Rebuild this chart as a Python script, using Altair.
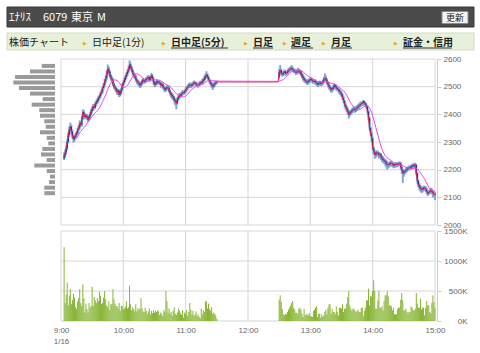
import altair as alt
import pandas as pd

# ---------------- data (minutes after 9:00, 1-minute bars) ----------------
am_minutes = list(range(3, 151))
pm_minutes = list(range(210, 361))

am_open = [2240, 2250, 2262, 2278, 2300, 2325, 2345,
           2355, 2338, 2320, 2310, 2318, 2325, 2332, 2345, 2352, 2368,
           2362, 2385, 2408, 2400, 2390, 2395, 2388, 2381, 2392, 2400,
           2412, 2420, 2429, 2425, 2438, 2445, 2450, 2459, 2465, 2475,
           2482, 2495, 2505, 2520, 2530, 2548, 2565, 2555, 2540, 2531,
           2525, 2510, 2500, 2495, 2489, 2480, 2485, 2471, 2478, 2490,
           2505, 2515, 2525, 2535, 2545, 2555, 2565, 2580, 2570, 2560,
           2548, 2540, 2537, 2525, 2520, 2515, 2510, 2505, 2512, 2520,
           2525, 2518, 2522, 2528, 2530, 2535, 2525, 2532, 2540, 2530,
           2518, 2507, 2512, 2520, 2515, 2518, 2513, 2505, 2510, 2500,
           2495, 2489, 2495, 2498, 2495, 2485, 2477, 2470, 2465, 2460,
           2452, 2447, 2440, 2455, 2462, 2471, 2468, 2475, 2480, 2478,
           2483, 2490, 2495, 2500, 2505, 2507, 2502, 2508, 2510, 2515,
           2513, 2508, 2505, 2505, 2510, 2515, 2513, 2520, 2525, 2530,
           2538, 2543, 2535, 2525, 2519, 2512, 2505, 2501, 2508, 2512,
           2515]
am_high = [2262, 2272, 2288, 2310, 2335, 2358, 2370,
           2362, 2345, 2328, 2325, 2333, 2340, 2352, 2360, 2378, 2375,
           2392, 2418, 2415, 2405, 2402, 2400, 2392, 2398, 2408, 2420,
           2428, 2438, 2435, 2445, 2452, 2458, 2466, 2472, 2482, 2490,
           2502, 2512, 2528, 2540, 2560, 2580, 2572, 2560, 2545, 2538,
           2530, 2515, 2506, 2500, 2494, 2492, 2490, 2485, 2496, 2512,
           2522, 2532, 2542, 2552, 2562, 2575, 2595, 2588, 2575, 2565,
           2555, 2548, 2542, 2530, 2526, 2522, 2515, 2518, 2526, 2532,
           2530, 2528, 2535, 2538, 2542, 2540, 2538, 2550, 2545, 2535,
           2522, 2518, 2526, 2525, 2524, 2522, 2518, 2515, 2515, 2505,
           2502, 2500, 2505, 2504, 2500, 2490, 2482, 2478, 2472, 2466,
           2458, 2452, 2462, 2470, 2478, 2476, 2482, 2488, 2485, 2490,
           2498, 2502, 2508, 2512, 2515, 2512, 2515, 2518, 2522, 2520,
           2518, 2515, 2512, 2518, 2522, 2520, 2528, 2532, 2540, 2548,
           2556, 2548, 2540, 2530, 2525, 2518, 2510, 2515, 2520, 2522,
           2522]
am_low = [2235, 2242, 2255, 2270, 2295, 2318, 2338,
          2330, 2312, 2298, 2302, 2310, 2318, 2326, 2338, 2345, 2355,
          2355, 2378, 2395, 2382, 2385, 2380, 2372, 2376, 2386, 2395,
          2405, 2412, 2418, 2420, 2430, 2438, 2442, 2452, 2458, 2468,
          2475, 2488, 2498, 2512, 2525, 2540, 2548, 2532, 2522, 2515,
          2502, 2492, 2486, 2480, 2470, 2472, 2462, 2465, 2472, 2485,
          2498, 2508, 2518, 2528, 2538, 2548, 2558, 2562, 2552, 2540,
          2532, 2528, 2518, 2510, 2505, 2500, 2495, 2498, 2505, 2512,
          2510, 2512, 2515, 2520, 2524, 2518, 2520, 2526, 2522, 2508,
          2498, 2500, 2505, 2508, 2508, 2506, 2496, 2498, 2492, 2486,
          2480, 2482, 2488, 2486, 2478, 2468, 2460, 2455, 2450, 2440,
          2432, 2418, 2435, 2448, 2455, 2460, 2462, 2468, 2470, 2472,
          2476, 2482, 2488, 2494, 2498, 2495, 2496, 2500, 2504, 2505,
          2500, 2498, 2496, 2500, 2504, 2505, 2506, 2512, 2518, 2522,
          2530, 2528, 2518, 2510, 2504, 2495, 2488, 2495, 2500, 2506,
          2510]
am_close = [2250, 2262, 2278, 2300, 2325, 2345, 2355,
            2338, 2320, 2310, 2318, 2325, 2332, 2345, 2352, 2368, 2362,
            2385, 2408, 2400, 2390, 2395, 2388, 2381, 2392, 2400, 2412,
            2420, 2429, 2425, 2438, 2445, 2450, 2459, 2465, 2475, 2482,
            2495, 2505, 2520, 2530, 2548, 2565, 2555, 2540, 2531, 2525,
            2510, 2500, 2495, 2489, 2480, 2485, 2471, 2478, 2490, 2505,
            2515, 2525, 2535, 2545, 2555, 2565, 2580, 2570, 2560, 2548,
            2540, 2537, 2525, 2520, 2515, 2510, 2505, 2512, 2520, 2525,
            2518, 2522, 2528, 2530, 2535, 2525, 2532, 2540, 2530, 2518,
            2507, 2512, 2520, 2515, 2518, 2513, 2505, 2510, 2500, 2495,
            2489, 2495, 2498, 2495, 2485, 2477, 2470, 2465, 2460, 2452,
            2447, 2440, 2455, 2462, 2471, 2468, 2475, 2480, 2478, 2483,
            2490, 2495, 2500, 2505, 2507, 2502, 2508, 2510, 2515, 2513,
            2508, 2505, 2505, 2510, 2515, 2513, 2520, 2525, 2530, 2538,
            2543, 2535, 2525, 2519, 2512, 2505, 2501, 2508, 2512, 2515,
            2517]
am_vol = [1230, 300, 440, 640, 260, 420, 530, 280, 350, 455,
          390, 230, 200, 330, 380, 530, 300, 250, 610, 380,
          140, 290, 200, 140, 300, 220, 250, 570, 250, 400,
          345, 300, 380, 330, 490, 420, 280, 300, 390, 500,
          360, 260, 230, 330, 180, 280, 280, 530, 360, 290,
          250, 250, 210, 300, 170, 250, 250, 190, 210, 240,
          330, 210, 230, 590, 280, 180, 230, 200, 160, 280,
          160, 210, 190, 210, 380, 210, 160, 150, 220, 170,
          120, 160, 210, 110, 170, 130, 180, 140, 170, 150,
          180, 160, 100, 140, 120, 85, 180, 150, 500, 330,
          140, 210, 120, 150, 85, 170, 230, 120, 100, 140,
          210, 170, 130, 100, 180, 55, 140, 120, 180, 85,
          150, 300, 190, 110, 170, 90, 110, 160, 85, 110,
          70, 45, 210, 110, 180, 150, 320, 330, 210, 290,
          200, 170, 230, 120, 140, 120, 90, 35]

pm_open = [2535, 2552, 2560, 2548, 2545, 2549, 2555, 2548, 2549, 2555,
           2560, 2562, 2565, 2567, 2560, 2558, 2555, 2550, 2556, 2560,
           2552, 2555, 2545, 2538, 2531, 2525, 2522, 2519, 2515, 2520,
           2523, 2528, 2525, 2520, 2518, 2522, 2515, 2513, 2508, 2512,
           2515, 2510, 2513, 2520, 2528, 2531, 2525, 2515, 2507, 2500,
           2495, 2489, 2492, 2498, 2505, 2501, 2495, 2492, 2489, 2482,
           2478, 2471, 2460, 2448, 2435, 2425, 2418, 2410, 2399, 2405,
           2410, 2415, 2417, 2420, 2415, 2422, 2425, 2429, 2432, 2436,
           2438, 2441, 2446, 2440, 2435, 2428, 2410, 2386, 2350, 2330,
           2313, 2277, 2265, 2253, 2258, 2262, 2259, 2252, 2255, 2247,
           2240, 2235, 2232, 2229, 2222, 2218, 2217, 2220, 2225, 2223,
           2220, 2215, 2218, 2220, 2217, 2222, 2220, 2223, 2210, 2198,
           2187, 2190, 2195, 2199, 2202, 2205, 2208, 2206, 2211, 2215,
           2212, 2218, 2217, 2187, 2160, 2145, 2138, 2132, 2127, 2130,
           2135, 2133, 2128, 2120, 2115, 2118, 2122, 2125, 2120, 2115, 2112]
pm_high = [2565, 2578, 2565, 2555, 2556, 2562, 2560, 2556, 2562, 2568,
           2570, 2574, 2578, 2572, 2566, 2565, 2562, 2562, 2568, 2565,
           2562, 2560, 2550, 2545, 2538, 2532, 2528, 2525, 2528, 2530,
           2535, 2534, 2530, 2526, 2528, 2526, 2520, 2518, 2518, 2522,
           2520, 2518, 2526, 2536, 2548, 2540, 2530, 2520, 2512, 2505,
           2500, 2498, 2505, 2512, 2510, 2506, 2500, 2498, 2494, 2488,
           2485, 2476, 2465, 2452, 2440, 2432, 2425, 2415, 2412, 2416,
           2422, 2425, 2428, 2426, 2430, 2432, 2436, 2440, 2445, 2446,
           2448, 2452, 2450, 2445, 2440, 2432, 2415, 2392, 2356, 2338,
           2318, 2285, 2272, 2265, 2270, 2268, 2264, 2262, 2260, 2252,
           2248, 2242, 2240, 2235, 2230, 2225, 2228, 2232, 2230, 2228,
           2225, 2224, 2228, 2226, 2228, 2228, 2230, 2228, 2215, 2202,
           2198, 2202, 2206, 2210, 2212, 2215, 2214, 2218, 2222, 2220,
           2225, 2224, 2220, 2192, 2165, 2152, 2145, 2140, 2138, 2142,
           2142, 2140, 2135, 2126, 2125, 2130, 2135, 2132, 2125, 2120, 2118]
pm_low = [2528, 2545, 2540, 2536, 2538, 2542, 2540, 2540, 2544, 2548,
          2552, 2555, 2558, 2552, 2550, 2548, 2542, 2544, 2550, 2545,
          2545, 2538, 2530, 2522, 2516, 2514, 2510, 2506, 2508, 2512,
          2516, 2518, 2512, 2510, 2512, 2506, 2504, 2498, 2500, 2505,
          2502, 2502, 2506, 2512, 2520, 2518, 2508, 2498, 2490, 2485,
          2478, 2480, 2485, 2490, 2492, 2486, 2484, 2480, 2472, 2468,
          2462, 2452, 2440, 2425, 2415, 2408, 2398, 2385, 2392, 2398,
          2402, 2406, 2410, 2406, 2408, 2414, 2418, 2420, 2425, 2428,
          2430, 2434, 2432, 2426, 2420, 2405, 2378, 2342, 2320, 2300,
          2270, 2255, 2240, 2242, 2248, 2250, 2240, 2242, 2235, 2228,
          2225, 2220, 2215, 2208, 2200, 2205, 2208, 2212, 2212, 2210,
          2205, 2206, 2210, 2208, 2210, 2212, 2214, 2200, 2185, 2152,
          2175, 2182, 2188, 2192, 2195, 2198, 2198, 2200, 2205, 2204,
          2205, 2208, 2180, 2150, 2135, 2125, 2120, 2115, 2118, 2122,
          2125, 2120, 2110, 2105, 2108, 2112, 2115, 2110, 2100, 2100, 2090]
pm_close = [2552, 2560, 2548, 2545, 2549, 2555, 2548, 2549, 2555, 2560,
            2562, 2565, 2567, 2560, 2558, 2555, 2550, 2556, 2560, 2552,
            2555, 2545, 2538, 2531, 2525, 2522, 2519, 2515, 2520, 2523,
            2528, 2525, 2520, 2518, 2522, 2515, 2513, 2508, 2512, 2515,
            2510, 2513, 2520, 2528, 2531, 2525, 2515, 2507, 2500, 2495,
            2489, 2492, 2498, 2505, 2501, 2495, 2492, 2489, 2482, 2478,
            2471, 2460, 2448, 2435, 2425, 2418, 2410, 2399, 2405, 2410,
            2415, 2417, 2420, 2415, 2422, 2425, 2429, 2432, 2436, 2438,
            2441, 2446, 2440, 2435, 2428, 2410, 2386, 2350, 2330, 2313,
            2277, 2265, 2253, 2258, 2262, 2259, 2252, 2255, 2247, 2240,
            2235, 2232, 2229, 2222, 2218, 2217, 2220, 2225, 2223, 2220,
            2215, 2218, 2220, 2217, 2222, 2220, 2223, 2210, 2198, 2187,
            2190, 2195, 2199, 2202, 2205, 2208, 2206, 2211, 2215, 2212,
            2218, 2217, 2187, 2160, 2145, 2138, 2132, 2127, 2130, 2135,
            2133, 2128, 2120, 2115, 2118, 2122, 2125, 2120, 2115, 2112, 2108]
pm_vol = [355, 428, 317, 200, 111, 94, 122, 111, 150, 190,
          222, 261, 300, 333, 222, 190, 133, 140, 122, 205,
          222, 190, 120, 67, 205, 94, 111, 111, 94, 133,
          78, 78, 67, 166, 190, 220, 244, 67, 122, 122,
          55, 111, 67, 94, 150, 190, 111, 222, 278, 278,
          122, 205, 150, 150, 111, 244, 150, 94, 222, 222,
          205, 278, 150, 205, 205, 289, 400, 500, 261, 205,
          166, 205, 205, 178, 150, 166, 190, 150, 150, 222,
          222, 78, 166, 222, 344, 344, 539, 261, 411, 411,
          500, 678, 500, 205, 205, 344, 500, 222, 222, 244,
          178, 333, 428, 428, 500, 411, 261, 261, 244, 178,
          222, 111, 111, 111, 205, 222, 222, 355, 467, 344,
          178, 178, 205, 150, 122, 150, 150, 244, 222, 178,
          178, 205, 467, 289, 222, 222, 372, 190, 222, 222,
          94, 222, 333, 261, 261, 150, 122, 300, 428, 317, 222]

# lunch break: line carried at the morning's last price
lunch_minute = 209
lunch_close = 2517

# price-band volume profile (left side)
profile_price = [2575, 2555, 2535, 2515, 2495, 2475, 2455, 2435, 2415, 2395, 2375, 2355,
                 2335, 2315, 2295, 2275, 2255, 2235, 2215, 2195, 2175, 2155, 2135, 2115]
profile_vol = [1330, 2500, 4000, 4170, 3600, 2500, 1230, 2330, 1570, 1500, 1070, 930,
               1500, 830, 670, 1270, 1400, 830, 2070, 830, 500, 600, 1070, 1070]

price_ticks = [2000, 2100, 2200, 2300, 2400, 2500, 2600]
vol_ticks = [0, 500, 1000, 1500]
hour_ticks = [0, 60, 120, 180, 240, 300, 360]

# ---------------- frames ----------------
candles = pd.DataFrame({
    "t": am_minutes + pm_minutes,
    "open": am_open + pm_open,
    "high": am_high + pm_high,
    "low": am_low + pm_low,
})
candles["close"] = am_close + pm_close
volume = pd.DataFrame({"t": am_minutes + pm_minutes, "vol": am_vol + pm_vol})
line_df = pd.DataFrame({"t": am_minutes + [lunch_minute] + pm_minutes,
                        "close": am_close + [lunch_close] + pm_close})
profile = pd.DataFrame({"p": profile_price, "pv": profile_vol})
one = pd.DataFrame({"a": [0]})

# ---------------- scales ----------------
W, H = 480, 353
X0, X1 = 61, 435
PY0, PY1 = 59, 225
VY0, VY1 = 231, 321
GRID = "#d6d6d6"
LBL = "#666666"
FONT = "Liberation Sans"
JP = "Noto Sans CJK JP"

def tsc():
    return alt.Scale(domain=[0, 360], range=[X0, X1], nice=False, zero=False)

def psc():
    return alt.Scale(domain=[2000, 2600], range=[PY1, PY0], nice=False, zero=False)

def vsc():
    return alt.Scale(domain=[0, 1500], range=[VY1, VY0], nice=False, zero=False)

price_axis = alt.Axis(orient="right", offset=-(W - X1 - 2), values=price_ticks, grid=False,
                      format="d",
                      domainColor="#cccccc", tickColor="#cccccc", tickSize=4, labelPadding=2,
                      labelFont=FONT, labelFontSize=8, labelColor=LBL, title=None,
                      labelOverlap=False, labelFlush=False)
vol_axis = alt.Axis(orient="right", offset=-(W - X1 - 2), values=vol_ticks, grid=False,
                    domainColor="#cccccc", tickColor="#cccccc", tickSize=4, labelPadding=26,
                    labelAlign="right", labelExpr="datum.value + 'K'",
                    labelFont=FONT, labelFontSize=8, labelColor=LBL, title=None,
                    labelOverlap=False, labelFlush=False)
time_axis = alt.Axis(orient="bottom", offset=-(H - VY1), values=hour_ticks, grid=False,
                     domain=False, ticks=False, tickSize=0, labelPadding=5,
                     labelExpr="datum.value == 0 ? ['9:00', '1/16'] : (floor(datum.value / 60) + 9) + ':00'",
                     labelLineHeight=11, labelFont=FONT, labelFontSize=8, labelColor=LBL,
                     title=None, labelOverlap=False, labelFlush=False)

layers = []

# grids
ticks_p = pd.DataFrame({"p": price_ticks})
layers.append(alt.Chart(ticks_p).mark_rule(color=GRID, strokeWidth=1).encode(
    y=alt.Y("p:Q", scale=psc(), axis=price_axis), x=alt.value(X0), x2=alt.value(X1)))
ticks_v = pd.DataFrame({"v": vol_ticks})
layers.append(alt.Chart(ticks_v).mark_rule(color=GRID, strokeWidth=1).encode(
    y=alt.Y("v:Q", scale=vsc(), axis=vol_axis), x=alt.value(X0), x2=alt.value(X1)))
hours = pd.DataFrame({"t": hour_ticks})
layers.append(alt.Chart(hours).mark_rule(color=GRID, strokeWidth=1).encode(
    x=alt.X("t:Q", scale=tsc(), axis=None), y=alt.value(PY0), y2=alt.value(PY1)))
layers.append(alt.Chart(hours).mark_rule(color=GRID, strokeWidth=1).encode(
    x=alt.X("t:Q", scale=tsc(), axis=time_axis), y=alt.value(VY0), y2=alt.value(VY1)))

# price-band profile
layers.append(alt.Chart(profile).mark_rule(color="#9a9a9a", strokeWidth=4, strokeCap="butt").encode(
    x=alt.X("pv:Q", scale=alt.Scale(domain=[0, 4200], range=[55, 13], nice=False, zero=False), axis=None),
    x2=alt.datum(0),
    y=alt.Y("p:Q", scale=psc(), axis=None)))

# volume bars
layers.append(alt.Chart(volume).mark_rule(color="#86b432", strokeWidth=1).encode(
    x=alt.X("t:Q", scale=tsc(), axis=None),
    y=alt.Y("vol:Q", scale=vsc(), axis=None), y2=alt.datum(0)))

# candles
layers.append(alt.Chart(candles).mark_rule(color="#7aa2da", strokeWidth=1.9).encode(
    x=alt.X("t:Q", scale=tsc(), axis=None),
    y=alt.Y("low:Q", scale=psc(), axis=None), y2="high:Q"))
layers.append(alt.Chart(candles).mark_rule(color="#1c2f8c", strokeWidth=1.2).encode(
    x=alt.X("t:Q", scale=tsc(), axis=None),
    y=alt.Y("open:Q", scale=psc(), axis=None), y2="close:Q"))

# close line and moving average
layers.append(alt.Chart(line_df).mark_line(color="#e0244e", strokeWidth=1).encode(
    x=alt.X("t:Q", scale=tsc(), axis=None),
    y=alt.Y("close:Q", scale=psc(), axis=None)))
layers.append(alt.Chart(line_df).transform_window(
    ma="mean(close)", n="count()", frame=[-12, 0], sort=[alt.SortField("t")]
).transform_filter("datum.n >= 13").mark_line(color="#e545ea", strokeWidth=1).encode(
    x=alt.X("t:Q", scale=tsc(), axis=None),
    y=alt.Y("ma:Q", scale=psc(), axis=None)))

# header bar
layers.append(alt.Chart(one).mark_rect(fill="#4b4b4b", stroke="#3a3a3a").encode(
    x=alt.value(7), x2=alt.value(474), y=alt.value(7), y2=alt.value(27)))
for txt, xx in [("ｴﾅﾘｽ", 9), ("6079", 43), ("東京", 71), ("M", 97)]:
    layers.append(alt.Chart(one).mark_text(text=txt, align="left", baseline="middle", color="white",
                                           font=JP, fontSize=11).encode(
        x=alt.value(xx), y=alt.value(17.5)))
layers.append(alt.Chart(one).mark_rect(fill="#f3f3f3", stroke="#8a8a8a").encode(
    x=alt.value(442), x2=alt.value(468), y=alt.value(11.5), y2=alt.value(23.5)))
layers.append(alt.Chart(one).mark_text(text="更新", align="center", baseline="middle", color="#222222",
                                       font=JP, fontSize=9).encode(x=alt.value(455), y=alt.value(17.5)))

# nav bar
layers.append(alt.Chart(one).mark_rect(fill="#e7f0d8", stroke="#d2ddc0").encode(
    x=alt.value(7), x2=alt.value(474), y=alt.value(33), y2=alt.value(50)))
nav_items = [("株価チャート", 9, None), ("日中足(1分)", 92, None), ("日中足(5分)", 171, 228),
             ("日足", 253, 273), ("週足", 291, 313), ("月足", 331, 352), ("証金・信用", 403, 452)]
for txt, xx, xe in nav_items:
    layers.append(alt.Chart(one).mark_text(text=txt, align="left", baseline="middle", color="#222222",
                                           font=JP, fontSize=10,
                                           fontWeight="bold" if xe else "normal").encode(
        x=alt.value(xx), y=alt.value(42.5)))
    if xe:
        layers.append(alt.Chart(one).mark_rule(color="#333333", strokeWidth=1).encode(
            x=alt.value(xx), x2=alt.value(xe), y=alt.value(48)))
for xx in [85, 164, 246, 285, 324, 396]:
    layers.append(alt.Chart(one).mark_text(text="▶", align="center", baseline="middle",
                                           color="#f0a010", fontSize=5).encode(
        x=alt.value(xx), y=alt.value(42.5)))

chart = alt.layer(*layers).resolve_scale(x="independent", y="independent").properties(
    width=W, height=H, autosize=alt.AutoSizeParams(type="none"), padding=0,
    background="white").configure_view(stroke=None)

chart.save("out.html", embed_options={"renderer": "svg", "actions": False})
